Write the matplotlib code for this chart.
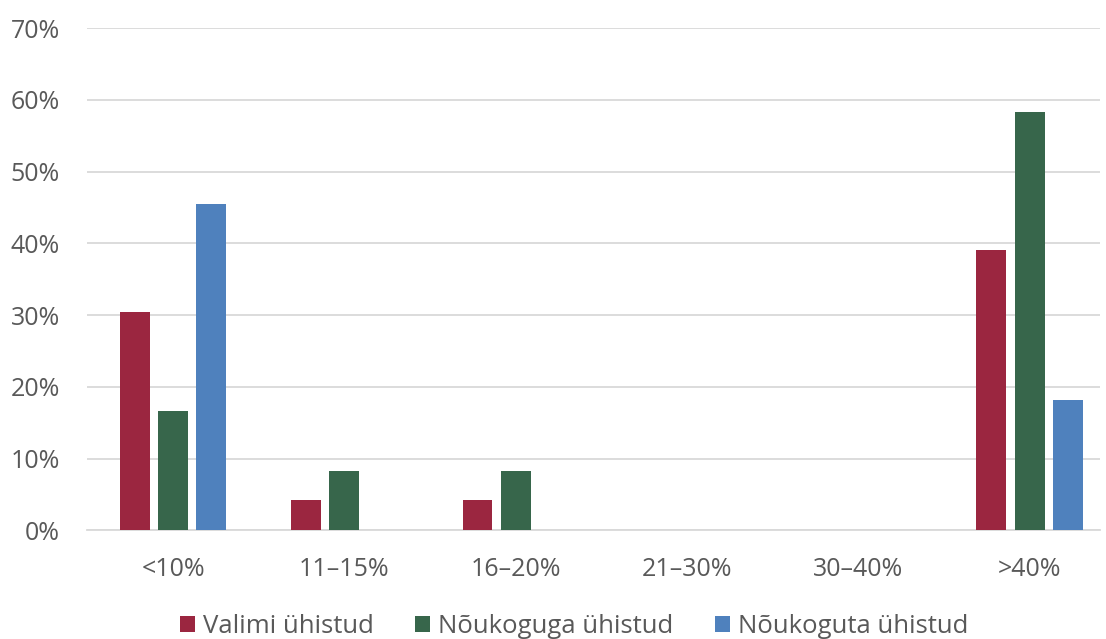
import numpy as np
import matplotlib.pyplot as plt

plt.rcParams['font.family'] = ['Open Sans', 'DejaVu Sans']

# data
categories = ['<10%', '11–15%', '16–20%', '21–30%', '30–40%', '>40%']
series_names = ['Valimi ühistud', 'Nõukoguga ühistud', 'Nõukoguta ühistud']
valimi = [30.4, 4.3, 4.3, 0, 0, 39.1]
noukoguga = [16.7, 8.3, 8.3, 0, 0, 58.3]
noukoguta = [45.5, 0, 0, 0, 0, 18.2]
colors = ['#9B2640', '#37664B', '#4F81BD']

fig = plt.figure(figsize=(11.06, 6.39), dpi=100)
ax = fig.add_axes([0.0791, 0.17, 0.9155, 0.786])

x = np.arange(len(categories))
width = 0.175
step = 0.2236
for i, (vals, name, col) in enumerate(zip([valimi, noukoguga, noukoguta], series_names, colors)):
    ax.bar(x + (i - 1) * step, vals, width, color=col, label=name, zorder=3)

ax.set_xlim(-0.5, 5.41)
ax.set_ylim(0, 70)
ax.set_yticks(np.arange(0, 71, 10))
ax.set_yticklabels([f'{v}%' for v in range(0, 71, 10)])
ax.set_xticks(x)
ax.set_xticklabels(categories)

ax.grid(axis='y', color='#D9D9D9', linewidth=1.3, zorder=0)
for s in ['top', 'right', 'left']:
    ax.spines[s].set_visible(False)
ax.spines['bottom'].set_color('#D9D9D9')
ax.spines['bottom'].set_linewidth(1.3)
ax.tick_params(axis='both', length=0, labelsize=18, colors='#595959')
ax.tick_params(axis='x', pad=19)
ax.tick_params(axis='y', pad=20)

leg = fig.legend(loc='lower center', ncol=3, frameon=False, fontsize=18.5,
                 bbox_to_anchor=(0.519, -0.036), handlelength=0.6, handleheight=0.6,
                 handletextpad=0.3, columnspacing=1.6)
for t in leg.get_texts():
    t.set_color('#595959')

fig.savefig('out.png', dpi=100)
